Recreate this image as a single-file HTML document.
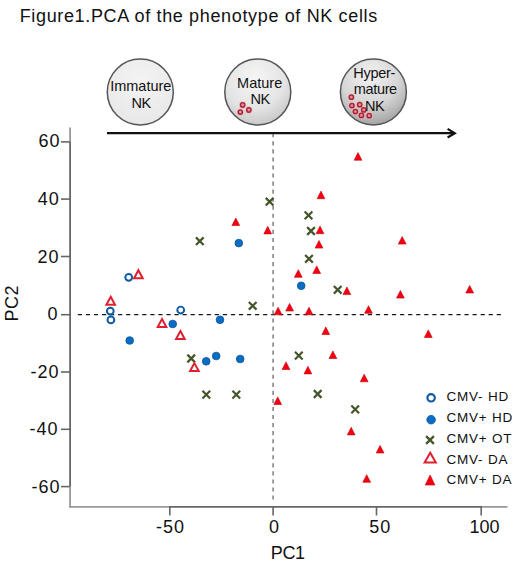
<!DOCTYPE html>
<html><head><meta charset="utf-8"><style>
html,body{margin:0;padding:0;background:#fff;}
svg{display:block;}
text{font-family:"Liberation Sans",sans-serif;fill:#111;}
</style></head><body>
<svg width="520" height="584" viewBox="0 0 520 584">
<defs>
<radialGradient id="g1" cx="50%" cy="35%" r="65%"><stop offset="0" stop-color="#f4f4f4"/><stop offset="1" stop-color="#e8e8e8"/></radialGradient>
<radialGradient id="g2" cx="45%" cy="30%" r="75%"><stop offset="0" stop-color="#f6f6f6"/><stop offset="0.6" stop-color="#e4e4e4"/><stop offset="1" stop-color="#c4c4c4"/></radialGradient>
<radialGradient id="g3" cx="45%" cy="25%" r="80%"><stop offset="0" stop-color="#f2f2f2"/><stop offset="0.55" stop-color="#d6d6d6"/><stop offset="1" stop-color="#9c9c9c"/></radialGradient>
</defs>
<rect width="520" height="584" fill="#fff"/>
<line x1="70.1" y1="127.5" x2="70.1" y2="142" stroke="#9a9a9a" stroke-width="1.8"/>
<line x1="70.1" y1="141.8" x2="70.1" y2="486.8" stroke="#666" stroke-width="1.8"/>
<line x1="70.1" y1="486.6" x2="70.1" y2="507.8" stroke="#9a9a9a" stroke-width="1.8"/>
<line x1="69.2" y1="506.9" x2="169.8" y2="506.9" stroke="#9a9a9a" stroke-width="1.8"/>
<line x1="169.8" y1="506.9" x2="481.2" y2="506.9" stroke="#666" stroke-width="1.8"/>
<line x1="481.2" y1="506.9" x2="507.5" y2="506.9" stroke="#9a9a9a" stroke-width="1.8"/>
<line x1="61" y1="141.9" x2="70" y2="141.9" stroke="#666" stroke-width="1.6"/>
<line x1="61" y1="199.1" x2="70" y2="199.1" stroke="#666" stroke-width="1.6"/>
<line x1="61" y1="256.5" x2="70" y2="256.5" stroke="#666" stroke-width="1.6"/>
<line x1="61" y1="314.7" x2="70" y2="314.7" stroke="#666" stroke-width="1.6"/>
<line x1="61" y1="372.0" x2="70" y2="372.0" stroke="#666" stroke-width="1.6"/>
<line x1="61" y1="429.3" x2="70" y2="429.3" stroke="#666" stroke-width="1.6"/>
<line x1="61" y1="486.6" x2="70" y2="486.6" stroke="#666" stroke-width="1.6"/>
<line x1="169.8" y1="506" x2="169.8" y2="515.5" stroke="#666" stroke-width="1.6"/>
<line x1="273.1" y1="506" x2="273.1" y2="515.5" stroke="#666" stroke-width="1.6"/>
<line x1="376.5" y1="506" x2="376.5" y2="515.5" stroke="#666" stroke-width="1.6"/>
<line x1="481.2" y1="506" x2="481.2" y2="515.5" stroke="#666" stroke-width="1.6"/>
<line x1="77.8" y1="314.55" x2="503" y2="314.55" stroke="#1a1a1a" stroke-width="1.3" stroke-dasharray="4.2 3.856"/>
<line x1="273.1" y1="133.25" x2="273.1" y2="500" stroke="#6a6a6a" stroke-width="1.3" stroke-dasharray="4.1 3.95"/>
<line x1="107" y1="133.2" x2="455" y2="133.2" stroke="#111" stroke-width="2.2"/>
<path d="M447.6,128.9L454.8,133.2L447.6,137.5" stroke="#111" stroke-width="2.2" fill="none"/>
<path d="M358,152.6L361.9,160.20000000000002L354.1,160.20000000000002Z" fill="#f5000f" stroke="#c4000e" stroke-width="0.6"/>
<path d="M321,191.1L324.9,198.70000000000002L317.1,198.70000000000002Z" fill="#f5000f" stroke="#c4000e" stroke-width="0.6"/>
<path d="M235.8,218.0L239.70000000000002,225.60000000000002L231.9,225.60000000000002Z" fill="#f5000f" stroke="#c4000e" stroke-width="0.6"/>
<path d="M267.7,226.29999999999998L271.59999999999997,233.9L263.8,233.9Z" fill="#f5000f" stroke="#c4000e" stroke-width="0.6"/>
<path d="M320,226.1L323.9,233.70000000000002L316.1,233.70000000000002Z" fill="#f5000f" stroke="#c4000e" stroke-width="0.6"/>
<path d="M319,240.5L322.9,248.10000000000002L315.1,248.10000000000002Z" fill="#f5000f" stroke="#c4000e" stroke-width="0.6"/>
<path d="M402.2,236.5L406.09999999999997,244.10000000000002L398.3,244.10000000000002Z" fill="#f5000f" stroke="#c4000e" stroke-width="0.6"/>
<path d="M316.7,265.9L320.59999999999997,273.5L312.8,273.5Z" fill="#f5000f" stroke="#c4000e" stroke-width="0.6"/>
<path d="M298.3,269.7L302.2,277.3L294.40000000000003,277.3Z" fill="#f5000f" stroke="#c4000e" stroke-width="0.6"/>
<path d="M346.9,287.0L350.79999999999995,294.6L343.0,294.6Z" fill="#f5000f" stroke="#c4000e" stroke-width="0.6"/>
<path d="M400.4,290.5L404.29999999999995,298.1L396.5,298.1Z" fill="#f5000f" stroke="#c4000e" stroke-width="0.6"/>
<path d="M469.7,285.4L473.59999999999997,293.0L465.8,293.0Z" fill="#f5000f" stroke="#c4000e" stroke-width="0.6"/>
<path d="M278.1,307.2L282.0,314.8L274.20000000000005,314.8Z" fill="#f5000f" stroke="#c4000e" stroke-width="0.6"/>
<path d="M289.6,303.4L293.5,311.0L285.70000000000005,311.0Z" fill="#f5000f" stroke="#c4000e" stroke-width="0.6"/>
<path d="M309,307.2L312.9,314.8L305.1,314.8Z" fill="#f5000f" stroke="#c4000e" stroke-width="0.6"/>
<path d="M368.5,305.7L372.4,313.3L364.6,313.3Z" fill="#f5000f" stroke="#c4000e" stroke-width="0.6"/>
<path d="M428.3,329.9L432.2,337.5L424.40000000000003,337.5Z" fill="#f5000f" stroke="#c4000e" stroke-width="0.6"/>
<path d="M325.8,326.9L329.7,334.5L321.90000000000003,334.5Z" fill="#f5000f" stroke="#c4000e" stroke-width="0.6"/>
<path d="M332.9,350.9L336.79999999999995,358.5L329.0,358.5Z" fill="#f5000f" stroke="#c4000e" stroke-width="0.6"/>
<path d="M286,361.9L289.9,369.5L282.1,369.5Z" fill="#f5000f" stroke="#c4000e" stroke-width="0.6"/>
<path d="M307.9,366.3L311.79999999999995,373.90000000000003L304.0,373.90000000000003Z" fill="#f5000f" stroke="#c4000e" stroke-width="0.6"/>
<path d="M364.2,374.2L368.09999999999997,381.8L360.3,381.8Z" fill="#f5000f" stroke="#c4000e" stroke-width="0.6"/>
<path d="M277.7,396.9L281.59999999999997,404.5L273.8,404.5Z" fill="#f5000f" stroke="#c4000e" stroke-width="0.6"/>
<path d="M351.2,427.3L355.09999999999997,434.90000000000003L347.3,434.90000000000003Z" fill="#f5000f" stroke="#c4000e" stroke-width="0.6"/>
<path d="M380.1,445.4L384.0,453.0L376.20000000000005,453.0Z" fill="#f5000f" stroke="#c4000e" stroke-width="0.6"/>
<path d="M366.7,474.7L370.59999999999997,482.3L362.8,482.3Z" fill="#f5000f" stroke="#c4000e" stroke-width="0.6"/>
<path d="M265.75,197.85L273.45000000000005,205.54999999999998M273.45000000000005,197.85L265.75,205.54999999999998" stroke="#45562a" stroke-width="2.2" fill="none"/>
<path d="M195.95000000000002,237.35L203.65,245.04999999999998M203.65,237.35L195.95000000000002,245.04999999999998" stroke="#45562a" stroke-width="2.2" fill="none"/>
<path d="M304.65,211.55L312.35,219.25M312.35,211.55L304.65,219.25" stroke="#45562a" stroke-width="2.2" fill="none"/>
<path d="M307.15,227.15L314.85,234.85M314.85,227.15L307.15,234.85" stroke="#45562a" stroke-width="2.2" fill="none"/>
<path d="M305.15,254.95000000000002L312.85,262.65000000000003M312.85,254.95000000000002L305.15,262.65000000000003" stroke="#45562a" stroke-width="2.2" fill="none"/>
<path d="M333.84999999999997,285.95L341.55,293.65000000000003M341.55,285.95L333.84999999999997,293.65000000000003" stroke="#45562a" stroke-width="2.2" fill="none"/>
<path d="M248.85,301.95L256.55,309.65000000000003M256.55,301.95L248.85,309.65000000000003" stroke="#45562a" stroke-width="2.2" fill="none"/>
<path d="M187.35,354.65L195.04999999999998,362.35M195.04999999999998,354.65L187.35,362.35" stroke="#45562a" stroke-width="2.2" fill="none"/>
<path d="M294.95,351.75L302.65000000000003,359.45000000000005M302.65000000000003,351.75L294.95,359.45000000000005" stroke="#45562a" stroke-width="2.2" fill="none"/>
<path d="M202.45000000000002,390.75L210.15,398.45000000000005M210.15,390.75L202.45000000000002,398.45000000000005" stroke="#45562a" stroke-width="2.2" fill="none"/>
<path d="M232.45000000000002,390.75L240.15,398.45000000000005M240.15,390.75L232.45000000000002,398.45000000000005" stroke="#45562a" stroke-width="2.2" fill="none"/>
<path d="M313.84999999999997,390.15L321.55,397.85M321.55,390.15L313.84999999999997,397.85" stroke="#45562a" stroke-width="2.2" fill="none"/>
<path d="M351.34999999999997,405.54999999999995L359.05,413.25M359.05,405.54999999999995L351.34999999999997,413.25" stroke="#45562a" stroke-width="2.2" fill="none"/>
<circle cx="238.8" cy="243.1" r="3.85" fill="#0a6cc4" stroke="#0c5599" stroke-width="0.8"/>
<circle cx="301.2" cy="285.8" r="3.85" fill="#0a6cc4" stroke="#0c5599" stroke-width="0.8"/>
<circle cx="220" cy="319.8" r="3.85" fill="#0a6cc4" stroke="#0c5599" stroke-width="0.8"/>
<circle cx="172.7" cy="324" r="3.85" fill="#0a6cc4" stroke="#0c5599" stroke-width="0.8"/>
<circle cx="129.7" cy="340.5" r="3.85" fill="#0a6cc4" stroke="#0c5599" stroke-width="0.8"/>
<circle cx="206.2" cy="361.3" r="3.85" fill="#0a6cc4" stroke="#0c5599" stroke-width="0.8"/>
<circle cx="216.2" cy="356" r="3.85" fill="#0a6cc4" stroke="#0c5599" stroke-width="0.8"/>
<circle cx="240.2" cy="359" r="3.85" fill="#0a6cc4" stroke="#0c5599" stroke-width="0.8"/>
<circle cx="128.7" cy="277.3" r="3.4" fill="none" stroke="#105a9e" stroke-width="1.95"/>
<circle cx="110.3" cy="311.1" r="3.4" fill="none" stroke="#105a9e" stroke-width="1.95"/>
<circle cx="110.9" cy="319.9" r="3.4" fill="none" stroke="#105a9e" stroke-width="1.95"/>
<circle cx="180.7" cy="310" r="3.4" fill="none" stroke="#105a9e" stroke-width="1.95"/>
<path d="M138.4,270.2L142.70000000000002,278.2L134.1,278.2Z" fill="none" stroke="#E0202F" stroke-width="2.0" stroke-linejoin="miter"/>
<path d="M110.7,296.8L115.0,304.8L106.4,304.8Z" fill="none" stroke="#E0202F" stroke-width="2.0" stroke-linejoin="miter"/>
<path d="M162,319.0L166.3,327.0L157.7,327.0Z" fill="none" stroke="#E0202F" stroke-width="2.0" stroke-linejoin="miter"/>
<path d="M180.4,331.0L184.70000000000002,339.0L176.1,339.0Z" fill="none" stroke="#E0202F" stroke-width="2.0" stroke-linejoin="miter"/>
<path d="M194.4,363.1L198.70000000000002,371.1L190.1,371.1Z" fill="none" stroke="#E0202F" stroke-width="2.0" stroke-linejoin="miter"/>
<circle cx="431.1" cy="397.8" r="3.7" fill="none" stroke="#105a9e" stroke-width="2.2"/>
<circle cx="431.1" cy="419.7" r="4.3" fill="#0a6cc4" stroke="#0c5599" stroke-width="0.8"/>
<path d="M426.1,436.1L433.9,443.9M433.9,436.1L426.1,443.9" stroke="#45562a" stroke-width="2.3" fill="none"/>
<path d="M430.2,452.8L435.8,462.40000000000003L424.59999999999997,462.40000000000003Z" fill="none" stroke="#E0202F" stroke-width="2.0" stroke-linejoin="miter"/>
<path d="M430.1,474.95L434.90000000000003,485.05L425.3,485.05Z" fill="#f5000f" stroke="#c4000e" stroke-width="0.6"/>
<circle cx="140.3" cy="92" r="33" fill="url(#g1)" stroke="#555" stroke-width="1.5"/>
<circle cx="257.8" cy="92" r="33" fill="url(#g2)" stroke="#555" stroke-width="1.5"/>
<circle cx="373.4" cy="92" r="33" fill="url(#g3)" stroke="#555" stroke-width="1.5"/>
<circle cx="242.65" cy="105" r="3.9" fill="#f2b8bf" opacity="0.55"/>
<circle cx="240.35" cy="112.1" r="3.9" fill="#f2b8bf" opacity="0.55"/>
<circle cx="248.8" cy="110" r="3.9" fill="#f2b8bf" opacity="0.55"/>
<circle cx="351.35" cy="97.2" r="3.9" fill="#f2b8bf" opacity="0.55"/>
<circle cx="351.9" cy="105.6" r="3.9" fill="#f2b8bf" opacity="0.55"/>
<circle cx="359.7" cy="104.7" r="3.9" fill="#f2b8bf" opacity="0.55"/>
<circle cx="363.75" cy="109.9" r="3.9" fill="#f2b8bf" opacity="0.55"/>
<circle cx="355.4" cy="111.6" r="3.9" fill="#f2b8bf" opacity="0.55"/>
<circle cx="361.4" cy="115.4" r="3.9" fill="#f2b8bf" opacity="0.55"/>
<circle cx="369.2" cy="115.7" r="3.9" fill="#f2b8bf" opacity="0.55"/>
<circle cx="242.65" cy="105" r="2.15" fill="#e8909c" stroke="#a82636" stroke-width="1.5"/>
<circle cx="240.35" cy="112.1" r="2.15" fill="#e8909c" stroke="#a82636" stroke-width="1.5"/>
<circle cx="248.8" cy="110" r="2.15" fill="#e8909c" stroke="#a82636" stroke-width="1.5"/>
<circle cx="351.35" cy="97.2" r="2.15" fill="#e8909c" stroke="#a82636" stroke-width="1.5"/>
<circle cx="351.9" cy="105.6" r="2.15" fill="#e8909c" stroke="#a82636" stroke-width="1.5"/>
<circle cx="359.7" cy="104.7" r="2.15" fill="#e8909c" stroke="#a82636" stroke-width="1.5"/>
<circle cx="363.75" cy="109.9" r="2.15" fill="#e8909c" stroke="#a82636" stroke-width="1.5"/>
<circle cx="355.4" cy="111.6" r="2.15" fill="#e8909c" stroke="#a82636" stroke-width="1.5"/>
<circle cx="361.4" cy="115.4" r="2.15" fill="#e8909c" stroke="#a82636" stroke-width="1.5"/>
<circle cx="369.2" cy="115.7" r="2.15" fill="#e8909c" stroke="#a82636" stroke-width="1.5"/>
<text x="19.7" y="21.5" font-size="18" text-anchor="start" letter-spacing="0.65">Figure1.PCA of the phenotype of NK cells</text>
<text x="38.4" y="146.9" font-size="18" text-anchor="start" letter-spacing="1">60</text>
<text x="37.7" y="205.3" font-size="18" text-anchor="start" letter-spacing="1">40</text>
<text x="37.6" y="262.7" font-size="18" text-anchor="start" letter-spacing="1">20</text>
<text x="47.6" y="319.8" font-size="18" text-anchor="start" letter-spacing="1">0</text>
<text x="30.5" y="378.3" font-size="18" text-anchor="start" letter-spacing="1">-20</text>
<text x="29.5" y="435.0" font-size="18" text-anchor="start" letter-spacing="1">-40</text>
<text x="31.4" y="493.1" font-size="18" text-anchor="start" letter-spacing="1">-60</text>
<text x="156" y="533.3" font-size="18" text-anchor="start" letter-spacing="1">-50</text>
<text x="269" y="533.3" font-size="18" text-anchor="start" letter-spacing="0">0</text>
<text x="369.3" y="533.3" font-size="18" text-anchor="start" letter-spacing="1">50</text>
<text x="469.5" y="533.3" font-size="18" text-anchor="start" letter-spacing="0">100</text>
<text x="270.8" y="558.9" font-size="18" text-anchor="start" letter-spacing="-0.4">PC1</text>
<text x="0" y="0" font-size="18" letter-spacing="0.5" text-anchor="start" transform="translate(17.9,321.6) rotate(-90)">PC2</text>
<text x="446.4" y="401.4" font-size="13.5" text-anchor="start" fill="#3a3a3a" letter-spacing="0.8">CMV- HD</text>
<text x="446.4" y="422.09999999999997" font-size="13.5" text-anchor="start" fill="#3a3a3a" letter-spacing="0.8">CMV+ HD</text>
<text x="446.4" y="442.79999999999995" font-size="13.5" text-anchor="start" fill="#3a3a3a" letter-spacing="0.8">CMV+ OT</text>
<text x="446.4" y="463.5" font-size="13.5" text-anchor="start" fill="#3a3a3a" letter-spacing="0.8">CMV- DA</text>
<text x="446.4" y="484.2" font-size="13.5" text-anchor="start" fill="#3a3a3a" letter-spacing="0.8">CMV+ DA</text>
<text x="110.2" y="91.2" font-size="14.5" text-anchor="start" fill="#262626" letter-spacing="0">Immature</text>
<text x="131.5" y="107.8" font-size="14.5" text-anchor="start" fill="#262626" letter-spacing="-0.5">NK</text>
<text x="237.1" y="87.7" font-size="14.5" text-anchor="start" fill="#262626" letter-spacing="0">Mature</text>
<text x="250.5" y="103.7" font-size="14.5" text-anchor="start" fill="#262626" letter-spacing="-0.5">NK</text>
<text x="353.3" y="78.2" font-size="14.5" text-anchor="start" fill="#262626" letter-spacing="-0.3">Hyper-</text>
<text x="353.8" y="94.0" font-size="14.5" text-anchor="start" fill="#262626" letter-spacing="-0.35">mature</text>
<text x="364.9" y="110.8" font-size="14.5" text-anchor="start" fill="#262626" letter-spacing="-0.3">NK</text>
</svg>
</body></html>
